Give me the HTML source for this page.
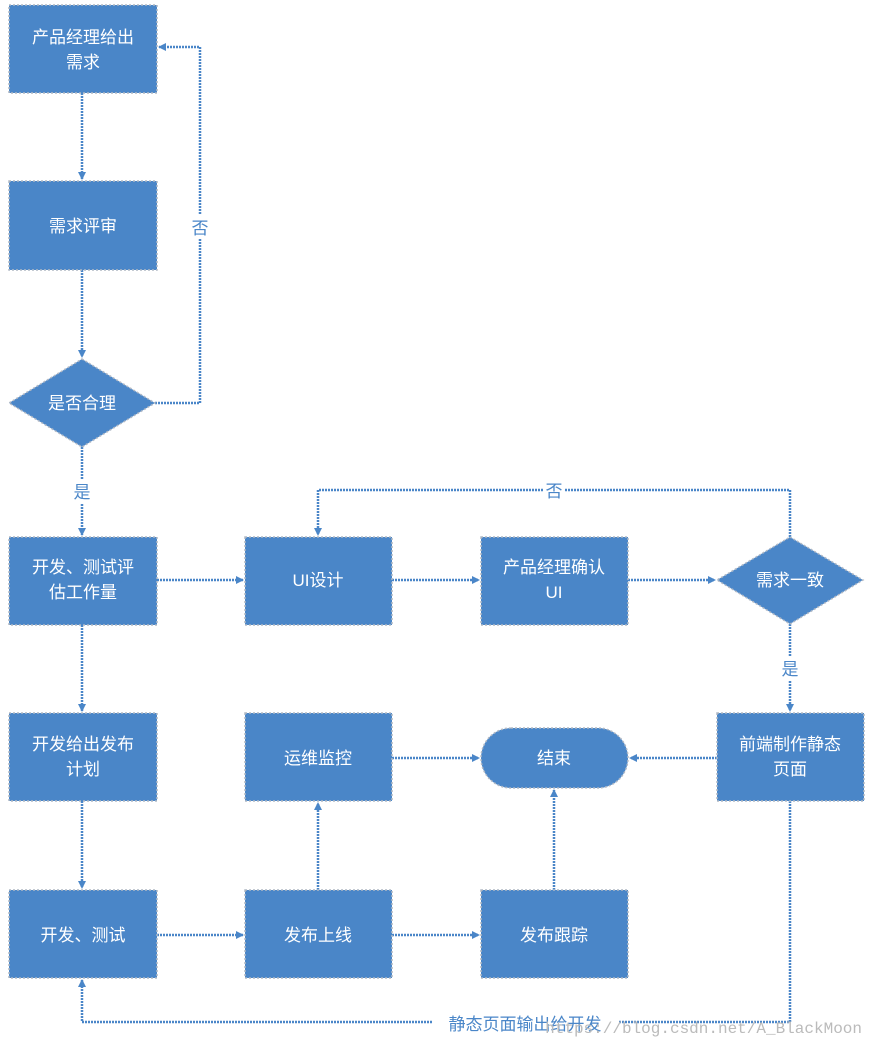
<!DOCTYPE html>
<html><head><meta charset="utf-8"><style>
html,body{margin:0;padding:0;background:#fff;width:874px;height:1048px;overflow:hidden}
svg{display:block}
text{font-family:"Liberation Sans","Noto Sans CJK SC",sans-serif;font-size:17px}
.w{fill:#fff}
.l{fill:none;stroke:#4a86c8;stroke-width:2.5;stroke-dasharray:2 1}
.b{fill:#4a86c8;stroke:#b0b8c4;stroke-width:1.5;stroke-dasharray:2 2}
.lb{fill:#4a86c8}
</style></head><body>
<svg width="874" height="1048" viewBox="0 0 874 1048">
<defs><marker id="a" markerWidth="8" markerHeight="8" refX="7" refY="4" orient="auto" markerUnits="userSpaceOnUse"><path d="M0,0L8,4L0,8z" fill="#4a86c8"/></marker></defs>
<!-- connectors -->
<g class="l">
<path d="M82 93V179" marker-end="url(#a)"/>
<path d="M82 270V357" marker-end="url(#a)"/>
<path d="M155 403H200V47H159" marker-end="url(#a)"/>
<path d="M82 447V535" marker-end="url(#a)"/>
<path d="M157 580H243" marker-end="url(#a)"/>
<path d="M392 580H479" marker-end="url(#a)"/>
<path d="M628 580H715" marker-end="url(#a)"/>
<path d="M790 537V490H318V535" marker-end="url(#a)"/>
<path d="M790 624V711" marker-end="url(#a)"/>
<path d="M717 758H630" marker-end="url(#a)"/>
<path d="M392 758H479" marker-end="url(#a)"/>
<path d="M554 890V790" marker-end="url(#a)"/>
<path d="M318 890V803" marker-end="url(#a)"/>
<path d="M82 625V711" marker-end="url(#a)"/>
<path d="M82 801V888" marker-end="url(#a)"/>
<path d="M157 935H243" marker-end="url(#a)"/>
<path d="M392 935H479" marker-end="url(#a)"/>
<path d="M790 801V1022H82V980" marker-end="url(#a)"/>
</g>
<!-- labels -->
<rect x="189" y="215" width="22" height="24" fill="#fff"/><text x="200" y="234" text-anchor="middle" class="lb">否</text>
<rect x="70" y="480" width="24" height="24" fill="#fff"/><text x="82" y="498" text-anchor="middle" class="lb">是</text>
<rect x="543" y="479" width="22" height="24" fill="#fff"/><text x="554" y="497" text-anchor="middle" class="lb">否</text>
<rect x="779" y="657" width="22" height="24" fill="#fff"/><text x="790" y="675" text-anchor="middle" class="lb">是</text>
<rect x="432" y="1012" width="186" height="24" fill="#fff"/><text x="525" y="1030" text-anchor="middle" class="lb">静态页面输出给开发</text>
<text x="862" y="1033" text-anchor="end" style="font-family:'Liberation Mono',monospace;font-size:16px;fill:#bbb">https://blog.csdn.net/A_BlackMoon</text>
<!-- boxes -->
<rect class="b" x="9" y="5" width="148" height="88"/>
<text class="w" x="83" y="43" text-anchor="middle">产品经理给出</text><text class="w" x="83" y="68" text-anchor="middle">需求</text>
<rect class="b" x="9" y="181" width="148" height="89"/>
<text class="w" x="83" y="232" text-anchor="middle">需求评审</text>
<polygon class="b" points="82,359 155,403 82,447 9,403"/>
<text class="w" x="82" y="409" text-anchor="middle">是否合理</text>
<rect class="b" x="9" y="537" width="148" height="88"/>
<text class="w" x="83" y="573" text-anchor="middle">开发、测试评</text><text class="w" x="83" y="598" text-anchor="middle">估工作量</text>
<rect class="b" x="245" y="537" width="147" height="88"/>
<text class="w" x="318" y="586" text-anchor="middle">UI设计</text>
<rect class="b" x="481" y="537" width="147" height="88"/>
<text class="w" x="554" y="573" text-anchor="middle">产品经理确认</text><text class="w" x="554" y="598" text-anchor="middle">UI</text>
<polygon class="b" points="790,537 863,580 790,624 717,580"/>
<text class="w" x="790" y="586" text-anchor="middle">需求一致</text>
<rect class="b" x="9" y="713" width="148" height="88"/>
<text class="w" x="83" y="750" text-anchor="middle">开发给出发布</text><text class="w" x="83" y="775" text-anchor="middle">计划</text>
<rect class="b" x="245" y="713" width="147" height="88"/>
<text class="w" x="318" y="764" text-anchor="middle">运维监控</text>
<rect class="b" x="481" y="728" width="147" height="60" rx="30"/>
<text class="w" x="554" y="764" text-anchor="middle">结束</text>
<rect class="b" x="717" y="713" width="147" height="88"/>
<text class="w" x="790" y="750" text-anchor="middle">前端制作静态</text><text class="w" x="790" y="775" text-anchor="middle">页面</text>
<rect class="b" x="9" y="890" width="148" height="88"/>
<text class="w" x="83" y="941" text-anchor="middle">开发、测试</text>
<rect class="b" x="245" y="890" width="147" height="88"/>
<text class="w" x="318" y="941" text-anchor="middle">发布上线</text>
<rect class="b" x="481" y="890" width="147" height="88"/>
<text class="w" x="554" y="941" text-anchor="middle">发布跟踪</text>
</svg>
</body></html>
